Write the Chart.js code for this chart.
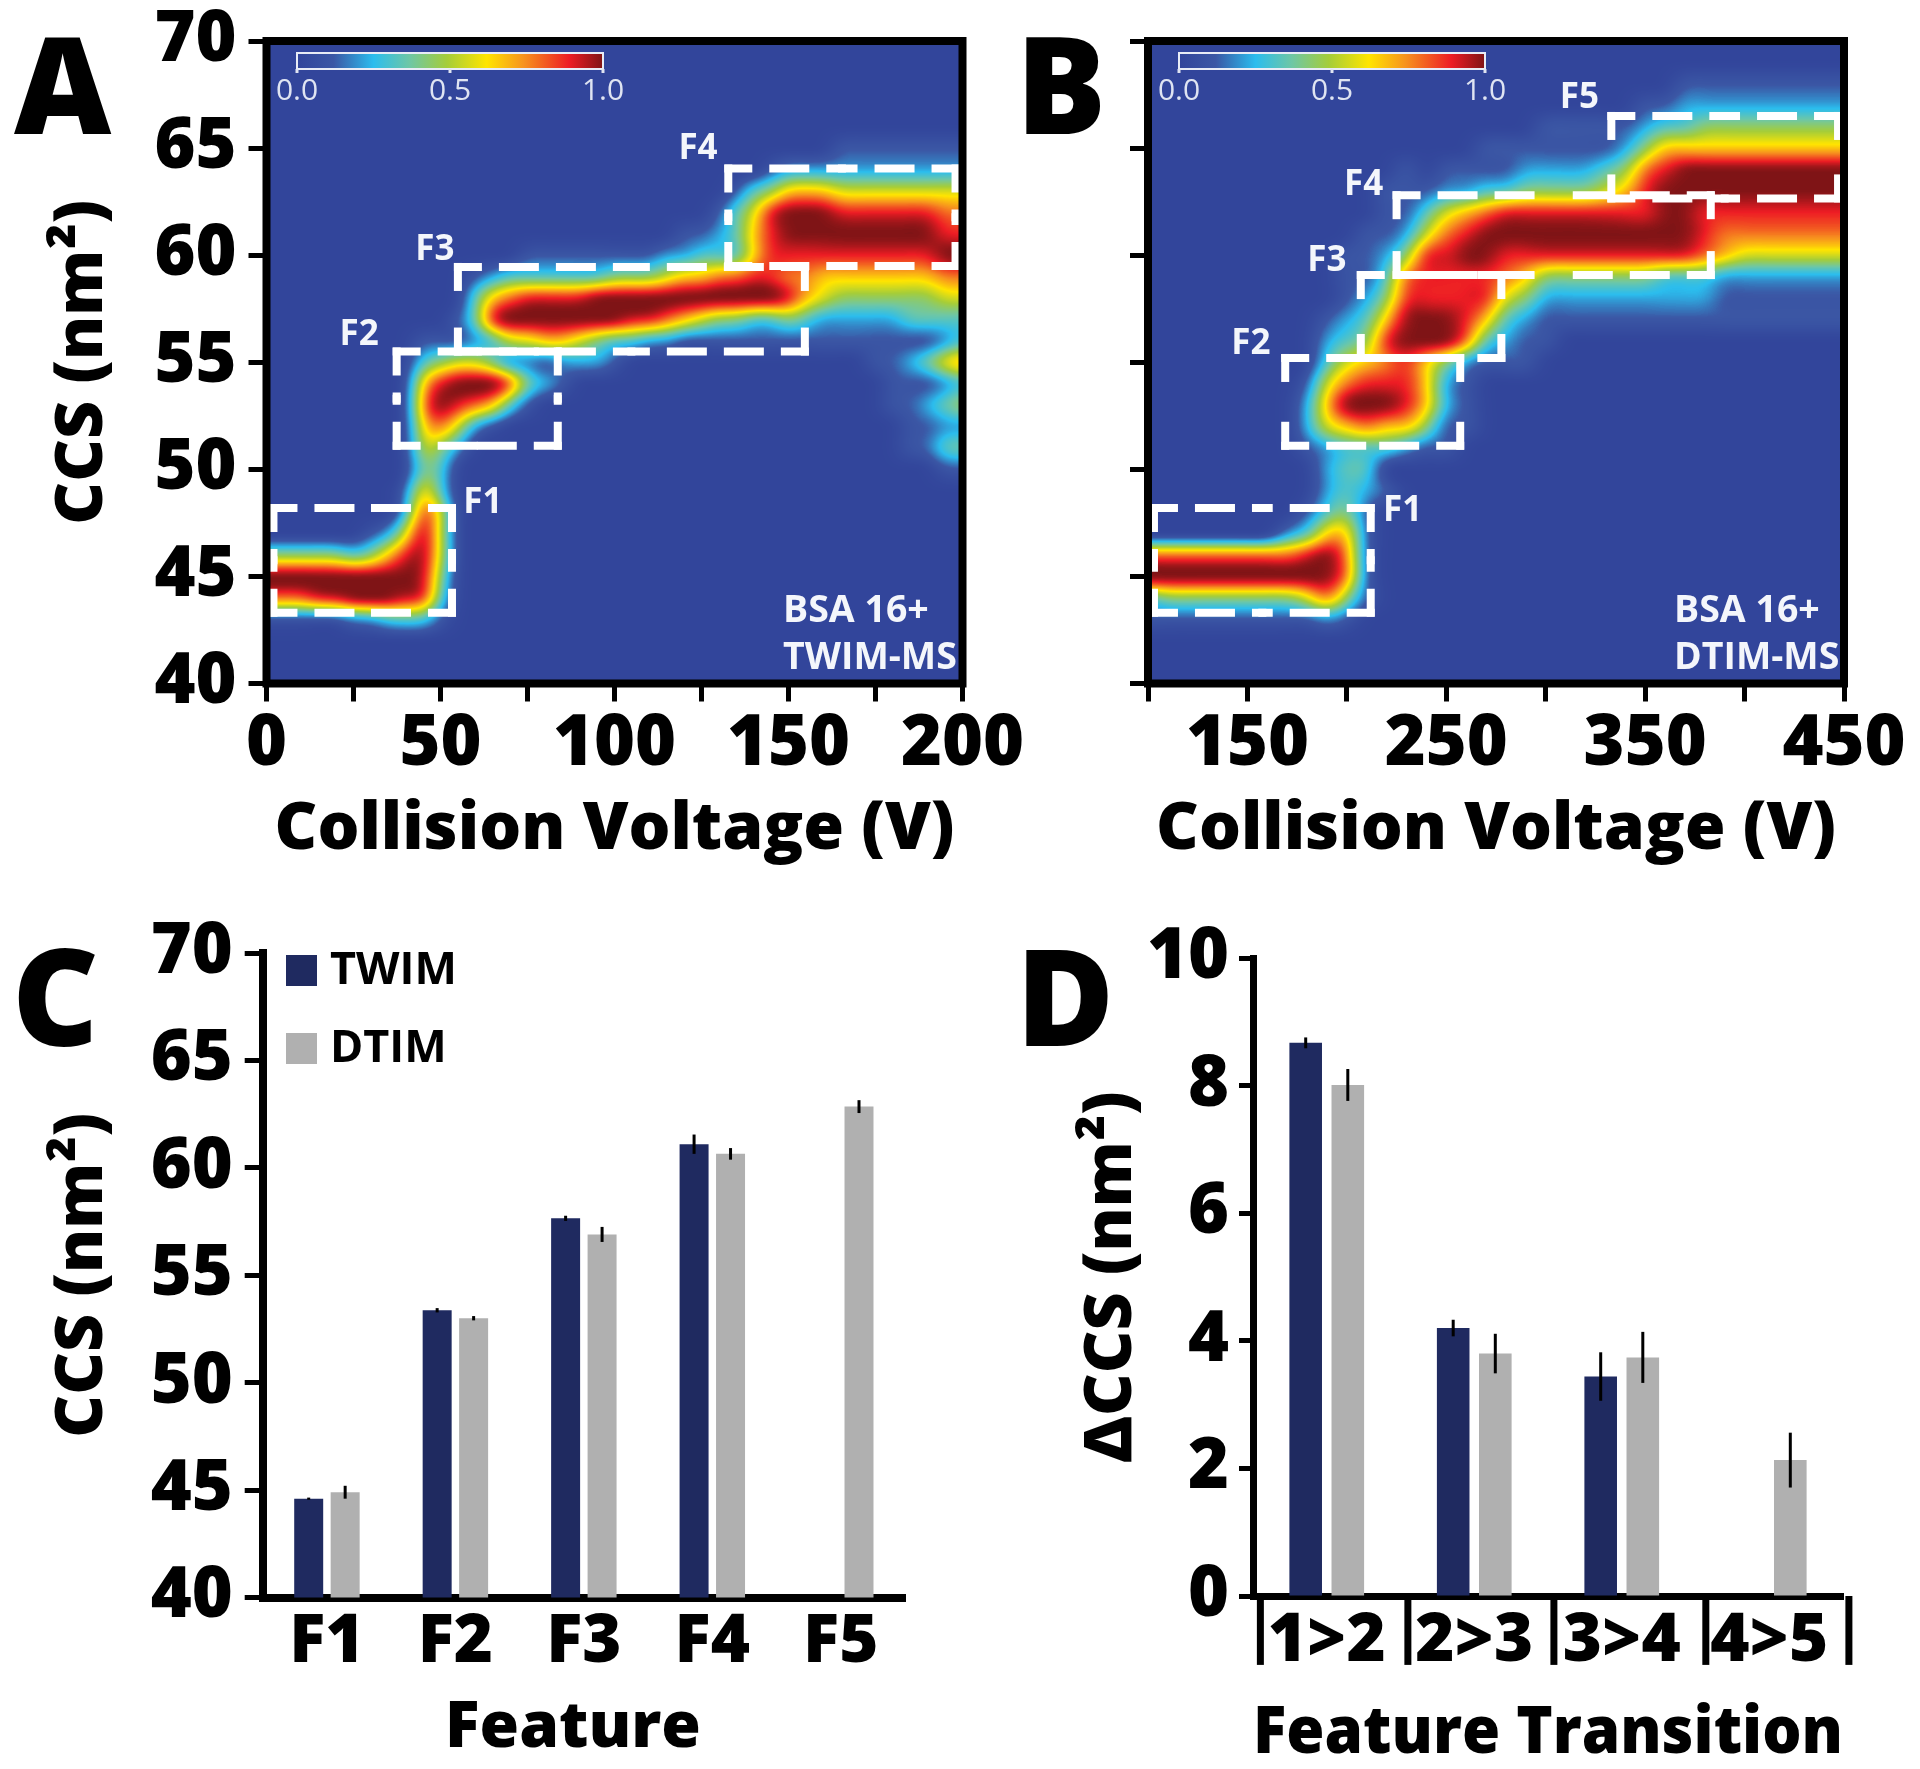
<!DOCTYPE html>
<html lang="en">

<head>
  <meta charset="UTF-8">
  <script src="https://cdn.jsdelivr.net/npm/chart.js"></script>
  <style>
    html, body { margin: 0; padding: 0; background: #fff; }
    #page { position: relative; width: 1920px; height: 1769px; overflow: hidden; }
    canvas { position: absolute; }
    .letter { position: absolute; font: 800 134px/1 "Open Sans", sans-serif; color: #000; }
  </style>
</head>

<body>
  <div id="page">
    <canvas id="chartA" width="1040" height="940" style="left:0;top:-40px"></canvas>
    <canvas id="chartB" width="920" height="940" style="left:1000px;top:-40px"></canvas>
    <canvas id="chartC" width="1000" height="869" style="left:0;top:900px"></canvas>
    <canvas id="chartD" width="920" height="869" style="left:1000px;top:900px"></canvas>
    <div class="letter" style="left:14px;top:15px">A</div>
    <div class="letter" style="left:1016px;top:15px">B</div>
    <div class="letter" style="left:12px;top:927px">C</div>
    <div class="letter" style="left:1016px;top:927px">D</div>
  </div>

  <script>
    // CCS rows run 40 -> 70 in each column string, digits are intensity in ninths.
    // Spaces only group the digits (40-49, 50-59, 60-70); missing digits at the end are 0.
    const ccsRows = [40, 41, 42, 43, 44, 45, 46, 47, 48, 49, 50, 51, 52, 53, 54, 55, 56, 57, 58, 59, 60, 61, 62, 63, 64, 65, 66, 67, 68, 69, 70];

    const voltagesA = [0, 5, 10, 15, 20, 25, 30, 35, 40, 45, 50, 55, 60, 65, 70, 75, 80, 85, 90, 95, 100, 105, 110, 115, 120, 125, 130, 135, 140, 145, 150, 155, 160, 165, 170, 175, 180, 185, 190, 195, 200];
    const heatA = [
      '0001794', '0001794', '0001794', '0001894', '0001894', '0002993', '00029941', '00039962', '0003898521',
      '0003899986 4567631',
      '0001345553 3479841',
      '0000000000 02589511',
      '0000000000 0027952331',
      '0000000000 0016943862',
      '0000000000 0003725973',
      '0000000000 0001325983 1',
      '0000000000 0000216983 1',
      '0000000000 0000126983 1',
      '0000000000 0000025983 1',
      '0000000000 0000024993 1',
      '0000000000 0000013994 1',
      '0000000000 0000003894 1',
      '0000000000 0000002894 1',
      '0000000000 0000002795 2',
      '0000000000 0000001696 21',
      '0000000000 0000001596 31',
      '0000000000 0000001497 321',
      '0000000000 0000001497 3331',
      '0000000000 0000001398 6653',
      '0000000000 0000001398 88841',
      '0000000000 0000001487 89962',
      '0000000000 0000001367 89962',
      '0000000000 0000001256 89962',
      '0000000000 0000001246 898521',
      '0000000000 0000001246 898521',
      '0000000000 0000011246 898521',
      '0000000000 0001111246 898521',
      '0000000000 0111121346 898521',
      '0000000000 0112131346 898521',
      '0000000000 1323252357 987521',
      '0000000000 1324363357 987521'
    ];

    const voltagesB = [100, 110, 120, 130, 140, 150, 160, 170, 180, 190, 200, 210, 220, 230, 240, 250, 260, 270, 280, 290, 300, 310, 320, 330, 340, 350, 360, 370, 380, 390, 400, 410, 420, 430, 440, 450];
    const heatB = [
      '0001397', '0001497', '0001497', '0001497', '0001497', '0001497', '0001497', '00014972',
      '000159831 0012210000',
      '0002799632 2256532100',
      '0001477643 3369753211 1',
      '0000111112 3379864321 11',
      '0000000001 0369878643 2111',
      '0000000000 0268889987 42111',
      '0000000000 0146669988 85310',
      '0000000000 0112249988 87521',
      '0000000000 0011127888 98621',
      '0000000000 0000013688 997311',
      '0000000000 0000012357 898311',
      '0000000000 0000011246 898421',
      '0000000000 0000001124 8984211',
      '0000000000 0000000124 8984211',
      '0000000000 0000000124 8984211',
      '0000000000 0000000124 8985311',
      '0000000000 0000000124 8986421',
      '0000000000 0000000124 89887421',
      '0000000000 0000000123 89998631',
      '0000000000 0000000123 899996321',
      '0000000000 0000000123 788996421',
      '0000000000 0000000112 678996421',
      '0000000000 0000000112 578996421',
      '0000000000 0000000112 578996421',
      '0000000000 0000000112 578996421',
      '0000000000 0000000112 578996421',
      '0000000000 0000000112 578996421',
      '0000000000 0000000112 578996421'
    ];

    // feature boxes: left V, right V, bottom CCS, top CCS
    const boxesA = [[2, 53.3, 43.3, 48.2], [37.4, 83.7, 51.1, 55.5], [55, 154.7, 55.5, 59.45], [132.7, 198, 59.5, 64.05]];
    const boxesB = [[103, 212, 43.3, 48.2], [169, 257, 51.1, 55.2], [207, 277.7, 55.2, 59.07], [225, 383, 59.07, 62.8], [333, 447, 62.65, 66.5]];
    const boxNamesA = ['F1', 'F2', 'F3', 'F4'];
    const boxNamesB = ['F1', 'F2', 'F3', 'F4', 'F5'];
    const nameSpotsA = [[62.2, 48.56], [26.6, 56.4], [48.4, 60.4], [124, 65.1]];
    const nameSpotsB = [[228, 48.2], [151.7, 56], [190, 59.85], [208.4, 63.4], [316.9, 67.5]];

    const features = ['F1', 'F2', 'F3', 'F4', 'F5'];
    const twimCCS = [44.6, 53.37, 57.65, 61.1, null];
    const dtimCCS = [44.9, 53.0, 56.9, 60.65, 62.85];
    const twimCCSErr = [0.05, 0.1, 0.12, 0.45, null];
    const dtimCCSErr = [0.3, 0.1, 0.35, 0.27, 0.3];

    const transitions = ['1>2', '2>3', '3>4', '4>5'];
    const twimDelta = [8.67, 4.2, 3.44, null];
    const dtimDelta = [8.01, 3.8, 3.74, 2.13];
    const twimDeltaErr = [0.085, 0.13, 0.38, null];
    const dtimDeltaErr = [0.25, 0.31, 0.4, 0.43];
    const transitionEdges = [0.05, 1.05, 2.04, 3.07, 4.04];

    const mapStops = [0, 0.12, 0.25, 0.37, 0.49, 0.62, 0.74, 0.89, 1];
    const mapColors = ['#32459b', '#3b57a5', '#2bbdee', '#6fc7a4', '#a5cd39', '#ffe500', '#f7931e', '#ed1c24', '#7f1416'];

    const FONT = '"Open Sans", sans-serif';
    const tickFont = { family: FONT, size: 67, weight: '800', lineHeight: 1 };
    const numberFont = { family: FONT, size: 70, weight: '800', lineHeight: 1 };
    const titleFont = { family: FONT, size: 66, weight: '800', lineHeight: 1 };
    const NAVY = '#1f2a60';
    const GREY = '#b0b0b0';
    const HEAT_TOP = 40; // the two upper canvases start 40px above the page

    function hexToRgb(hex) {
      return [1, 3, 5].map(i => parseInt(hex.slice(i, i + 2), 16));
    }

    function buildLut() {
      const lut = [];
      for (let i = 0; i <= 255; i++) {
        const t = i / 255;
        let k = 0;
        while (k < mapStops.length - 2 && t > mapStops[k + 1]) k++;
        const f = (t - mapStops[k]) / (mapStops[k + 1] - mapStops[k]);
        const a = hexToRgb(mapColors[k]);
        const b = hexToRgb(mapColors[k + 1]);
        lut.push(a.map((c, j) => Math.round(c + (b[j] - c) * f)));
      }
      return lut;
    }
    const lut = buildLut();

    function heatCells(columns, voltages) {
      const cells = [];
      columns.forEach((col, i) => {
        const digits = col.replace(/ /g, '').padEnd(ccsRows.length, '0');
        ccsRows.forEach((ccs, j) => {
          cells.push({ x: voltages[i], y: ccs, v: Number(digits[j]) / 9 });
        });
      });
      return cells;
    }

    function cubic(p0, p1, p2, p3, t) {
      return p1 + 0.5 * t * (p2 - p0 + t * (2 * p0 - 5 * p1 + 4 * p2 - p3 + t * (3 * (p1 - p2) + p3 - p0)));
    }

    // box blur of the value field, along one direction
    function blurLine(src, w, h, rad, alongX) {
      const out = new Float32Array(src.length);
      const len = alongX ? w : h;
      const lines = alongX ? h : w;
      const step = alongX ? 1 : w;
      const lineStep = alongX ? w : 1;
      for (let l = 0; l < lines; l++) {
        const base = l * lineStep;
        let sum = 0;
        for (let k = -rad; k <= rad; k++) sum += src[base + Math.max(0, Math.min(len - 1, k)) * step];
        for (let i = 0; i < len; i++) {
          out[base + i * step] = sum / (2 * rad + 1);
          sum += src[base + Math.min(len - 1, i + rad + 1) * step] - src[base + Math.max(0, i - rad) * step];
        }
      }
      return out;
    }

    // paints the cell values of dataset 0 as a smooth image, cell positions come from the scales
    function paintHeat(chart, nCols, nRows) {
      const area = chart.chartArea;
      const meta = chart.getDatasetMeta(0);
      const cells = chart.data.datasets[0].data;
      const px0 = meta.data[0].x;
      const py0 = meta.data[0].y;
      const dx = meta.data[nRows].x - px0;
      const dy = meta.data[1].y - py0;
      const val = (c, r) => {
        c = Math.max(0, Math.min(nCols - 1, c));
        r = Math.max(0, Math.min(nRows - 1, r));
        return cells[c * nRows + r].v;
      };
      const w = Math.ceil(area.right - area.left);
      const h = Math.ceil(area.bottom - area.top);
      let field = new Float32Array(w * h);
      for (let y = 0; y < h; y++) {
        const fy = (area.top + y + 0.5 - py0) / dy;
        const r = Math.floor(fy);
        const ty = fy - r;
        for (let x = 0; x < w; x++) {
          const fx = (area.left + x + 0.5 - px0) / dx;
          const c = Math.floor(fx);
          const tx = fx - c;
          const rowVals = [-1, 0, 1, 2].map(o => cubic(val(c - 1, r + o), val(c, r + o), val(c + 1, r + o), val(c + 2, r + o), tx));
          field[y * w + x] = Math.max(0, Math.min(1, cubic(rowVals[0], rowVals[1], rowVals[2], rowVals[3], ty)));
        }
      }
      for (let pass = 0; pass < 2; pass++) {
        field = blurLine(field, w, h, 10, true);
        field = blurLine(field, w, h, 3, false);
      }
      const off = document.createElement('canvas');
      off.width = w;
      off.height = h;
      const octx = off.getContext('2d');
      const img = octx.createImageData(w, h);
      for (let p = 0; p < field.length; p++) {
        const rgb = lut[Math.round(field[p] * 255)];
        img.data[p * 4] = rgb[0];
        img.data[p * 4 + 1] = rgb[1];
        img.data[p * 4 + 2] = rgb[2];
        img.data[p * 4 + 3] = 255;
      }
      octx.putImageData(img, 0, 0);
      chart.ctx.drawImage(off, area.left, area.top);
    }

    function drawColorbar(ctx, left, right) {
      const top = HEAT_TOP + 53;
      const bottom = HEAT_TOP + 69;
      const grad = ctx.createLinearGradient(left, 0, right, 0);
      mapStops.forEach((s, i) => grad.addColorStop(s, mapColors[i]));
      ctx.fillStyle = grad;
      ctx.fillRect(left, top, right - left, bottom - top);
      ctx.strokeStyle = '#e8ecf6';
      ctx.lineWidth = 2;
      ctx.strokeRect(left, top, right - left, bottom - top);
      ctx.font = `400 30px ${FONT}`;
      ctx.fillStyle = '#dfe4f2';
      ctx.textAlign = 'center';
      ctx.textBaseline = 'middle';
      ['0.0', '0.5', '1.0'].forEach((t, i) => {
        const x = left + (right - left) * i / 2;
        ctx.fillRect(x - 1.5, bottom, 3, 4);
        ctx.fillText(t, x, HEAT_TOP + 91);
      });
    }

    function heatPlugin(cfg) {
      return {
        id: 'heat',
        beforeDatasetsDraw(chart) {
          paintHeat(chart, cfg.voltages.length, ccsRows.length);
        },
        afterDatasetsDraw(chart) {
          const { ctx, chartArea: a, scales } = chart;
          ctx.save();
          drawColorbar(ctx, cfg.barLeft, cfg.barRight);
          ctx.fillStyle = '#f4f6fb';
          ctx.textAlign = 'center';
          ctx.textBaseline = 'middle';
          ctx.font = `700 35px ${FONT}`;
          cfg.names.forEach((name, i) => {
            ctx.fillText(name, scales.x.getPixelForValue(cfg.spots[i][0]), scales.y.getPixelForValue(cfg.spots[i][1]) + 3);
          });
          ctx.textAlign = 'left';
          ctx.font = `700 37.5px ${FONT}`;
          ctx.fillText('BSA 16+', cfg.noteX, HEAT_TOP + 611);
          ctx.fillText(cfg.note, cfg.noteX, HEAT_TOP + 658);
          ctx.strokeStyle = '#000';
          ctx.lineWidth = 8;
          ctx.strokeRect(a.left, a.top, a.right - a.left, a.bottom - a.top);
          ctx.restore();
        }
      };
    }

    // each box side is two runs from its corners to the middle, so every corner gets a solid L
    function boxDatasets(boxes) {
      const sets = [];
      boxes.forEach(b => {
        const corners = [[b[0], b[3]], [b[1], b[3]], [b[1], b[2]], [b[0], b[2]]];
        corners.forEach((c, i) => {
          const next = corners[(i + 1) % 4];
          const mid = { x: (c[0] + next[0]) / 2, y: (c[1] + next[1]) / 2 };
          [c, next].forEach(end => {
            sets.push({
              type: 'line',
              data: [{ x: end[0], y: end[1] }, mid],
              borderColor: '#fff',
              borderWidth: 8,
              borderDash: [32, 25],
              borderDashOffset: 12,
              borderCapStyle: 'square',
              pointRadius: 0,
              fill: false,
              clip: false
            });
          });
        });
      });
      return sets;
    }

    function fixed(width) {
      return (scale) => { scale.width = width; };
    }
    function fixedH(height) {
      return (scale) => { scale.height = height; };
    }

    function heatChart(id, cfg) {
      new Chart(document.getElementById(id), {
        type: 'scatter',
        data: {
          datasets: [{ data: heatCells(cfg.columns, cfg.voltages), pointRadius: 0, pointHoverRadius: 0 }].concat(boxDatasets(cfg.boxes))
        },
        plugins: [heatPlugin(cfg)],
        options: {
          responsive: false,
          animation: false,
          events: [],
          layout: { padding: { top: HEAT_TOP + 41, right: cfg.padRight, left: 0, bottom: 0 } },
          plugins: { legend: { display: false }, tooltip: { enabled: false } },
          scales: {
            x: {
              type: 'linear',
              min: cfg.voltages[0],
              max: cfg.voltages[cfg.voltages.length - 1],
              afterFit: fixedH(216.5),
              border: { display: false },
              grid: { drawOnChartArea: false, color: '#000', tickLength: 18, tickWidth: 5 },
              ticks: {
                stepSize: cfg.xStep,
                autoSkip: false,
                maxRotation: 0,
                padding: 9,
                color: '#000',
                font: numberFont,
                callback: cfg.xLabel
              },
              title: { display: true, text: 'Collision Voltage (V)', font: titleFont, color: '#000', padding: { top: 0, bottom: 37 } }
            },
            y: {
              min: 40,
              max: 70,
              afterFit: fixed(cfg.axisWidth),
              border: { display: false },
              grid: { drawOnChartArea: false, color: '#000', tickLength: 18, tickWidth: 5 },
              ticks: {
                stepSize: 5,
                autoSkip: false,
                padding: 12,
                color: '#000',
                font: numberFont,
                callback: cfg.yLabel
              },
              title: { display: cfg.showTitle, text: 'CCS (nm²)', font: titleFont, color: '#000', padding: { top: 50, bottom: 0 } }
            }
          }
        }
      });
    }

    heatChart('chartA', {
      columns: heatA, voltages: voltagesA, boxes: boxesA, names: boxNamesA, spots: nameSpotsA,
      barLeft: 297, barRight: 603, noteX: 783, note: 'TWIM-MS', padRight: 77.5, axisWidth: 266.5, xStep: 25,
      xLabel: v => (v % 50 === 0 ? String(v) : ''), yLabel: v => String(v), showTitle: true
    });
    heatChart('chartB', {
      columns: heatB, voltages: voltagesB, boxes: boxesB, names: boxNamesB, spots: nameSpotsB,
      barLeft: 179, barRight: 485, noteX: 674, note: 'DTIM-MS', padRight: 76, axisWidth: 148, xStep: 50,
      xLabel: v => (v % 100 === 50 ? String(v) : ''), yLabel: () => '', showTitle: false
    });

    // error bars sit on the bar elements, so they follow the library's scales
    function errorPlugin(errs) {
      return {
        id: 'errors',
        afterDatasetsDraw(chart) {
          const { ctx, scales } = chart;
          ctx.save();
          ctx.strokeStyle = '#000';
          ctx.lineWidth = 3;
          errs.forEach((errList, d) => {
            chart.getDatasetMeta(d).data.forEach((bar, i) => {
              const value = chart.data.datasets[d].data[i];
              if (value === null) return;
              ctx.beginPath();
              ctx.moveTo(bar.x, scales.y.getPixelForValue(value - errList[i]));
              ctx.lineTo(bar.x, scales.y.getPixelForValue(value + errList[i]));
              ctx.stroke();
            });
          });
          ctx.restore();
        }
      };
    }

    const legendPlugin = {
      id: 'legendC',
      afterDraw(chart) {
        const ctx = chart.ctx;
        ctx.save();
        ctx.textBaseline = 'middle';
        ctx.font = `700 45px ${FONT}`;
        [['TWIM', NAVY, 55], ['DTIM', GREY, 133]].forEach(([name, color, top]) => {
          ctx.fillStyle = color;
          ctx.fillRect(286, top, 31, 31);
          ctx.fillStyle = '#000';
          ctx.fillText(name, 330, top + 16);
        });
        // the axis title sits a little left of the plot centre in the original
        ctx.font = `800 64px ${FONT}`;
        ctx.textAlign = 'center';
        ctx.fillText('Feature', 573, 829);
        ctx.restore();
      }
    };

    const edgesPlugin = {
      id: 'transitionEdges',
      afterDatasetsDraw(chart) {
        const { ctx, scales } = chart;
        ctx.save();
        ctx.strokeStyle = '#000';
        ctx.lineWidth = 7;
        transitionEdges.forEach(edge => {
          const x = scales.edges.getPixelForValue(edge);
          ctx.beginPath();
          ctx.moveTo(x, scales.y.getPixelForValue(0));
          ctx.lineTo(x, scales.y.getPixelForValue(-1.08));
          ctx.stroke();
        });
        ctx.restore();
      }
    };

    new Chart(document.getElementById('chartC'), {
      type: 'bar',
      data: {
        labels: features,
        datasets: [
          { label: 'TWIM', data: twimCCS, backgroundColor: NAVY, categoryPercentage: 0.5677, barPercentage: 0.795 },
          { label: 'DTIM', data: dtimCCS, backgroundColor: GREY, categoryPercentage: 0.5677, barPercentage: 0.795 }
        ]
      },
      plugins: [errorPlugin([twimCCSErr, dtimCCSErr]), legendPlugin],
      options: {
        responsive: false,
        animation: false,
        events: [],
        layout: { padding: { top: 53, right: 95, left: 0, bottom: 0 } },
        plugins: { legend: { display: false }, tooltip: { enabled: false } },
        scales: {
          x: {
            afterFit: fixedH(171.5),
            border: { color: '#000', width: 8 },
            grid: { display: false, drawTicks: false },
            ticks: { padding: 12, color: '#000', font: tickFont, maxRotation: 0 }
          },
          y: {
            min: 40,
            max: 70,
            afterFit: fixed(262.7),
            border: { color: '#000', width: 8 },
            grid: { drawOnChartArea: false, color: '#000', tickLength: 18, tickWidth: 5 },
            ticks: { stepSize: 5, padding: 12, color: '#000', font: numberFont },
            title: { display: true, text: 'CCS (nm²)', font: titleFont, color: '#000', padding: { top: 50, bottom: 0 } }
          }
        }
      }
    });

    new Chart(document.getElementById('chartD'), {
      type: 'bar',
      data: {
        labels: transitions,
        datasets: [
          { label: 'TWIM', data: twimDelta, backgroundColor: NAVY, categoryPercentage: 0.571, barPercentage: 0.774 },
          { label: 'DTIM', data: dtimDelta, backgroundColor: GREY, categoryPercentage: 0.571, barPercentage: 0.774 }
        ]
      },
      plugins: [errorPlugin([twimDeltaErr, dtimDeltaErr]), edgesPlugin],
      options: {
        responsive: false,
        animation: false,
        events: [],
        layout: { padding: { top: 58, right: 77, left: 0, bottom: 0 } },
        plugins: { legend: { display: false }, tooltip: { enabled: false } },
        scales: {
          x: {
            afterFit: fixedH(173),
            border: { color: '#000', width: 7 },
            grid: { display: false, drawTicks: false },
            ticks: { padding: 12, color: '#000', font: tickFont, maxRotation: 0 },
            title: { display: true, text: 'Feature Transition', font: titleFont, color: '#000', padding: { top: 0, bottom: 2 } }
          },
          edges: { type: 'linear', axis: 'x', position: 'bottom', display: false, offset: false, min: 0, max: 4 },
          y: {
            min: 0,
            max: 10,
            afterFit: fixed(253),
            border: { color: '#000', width: 7 },
            grid: { drawOnChartArea: false, color: '#000', tickLength: 14, tickWidth: 5 },
            ticks: { stepSize: 2, padding: 10, color: '#000', font: numberFont },
            title: { display: true, text: 'ΔCCS (nm²)', font: titleFont, color: '#000', padding: { top: 79, bottom: 0 } }
          }
        }
      }
    });
  </script>
</body>

</html>
